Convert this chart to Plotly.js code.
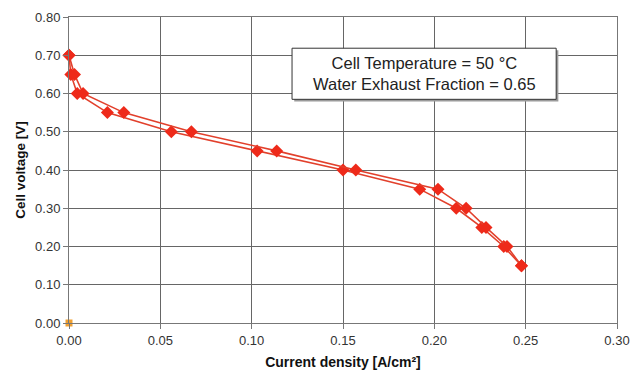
<!DOCTYPE html>
<html>
<head>
<meta charset="utf-8">
<script src="https://cdn.plot.ly/plotly-3.0.1.min.js"></script>
<style>html,body{margin:0;padding:0;background:#fff;}#chart{width:631px;height:375px;}</style>
</head>
<body>
<div id="chart"></div>
<script>
// Lower-current branch (one scan direction)
var currentA = [0.000, 0.001, 0.0045, 0.021, 0.056, 0.103, 0.150, 0.192, 0.212, 0.226, 0.238, 0.2477];
var voltageA = [0.70, 0.65, 0.60, 0.55, 0.50, 0.45, 0.40, 0.35, 0.30, 0.25, 0.20, 0.15];
// Higher-current branch (other scan direction)
var currentB = [0.000, 0.003, 0.0077, 0.030, 0.067, 0.1137, 0.157, 0.202, 0.2174, 0.2283, 0.2398, 0.2477];
var voltageB = [0.70, 0.65, 0.60, 0.55, 0.50, 0.45, 0.40, 0.35, 0.30, 0.25, 0.20, 0.15];
// Origin marker
var originX = [0];
var originY = [0];

var xTicks = [0, 0.05, 0.10, 0.15, 0.20, 0.25, 0.30];
var xTickText = ['0.00', '0.05', '0.10', '0.15', '0.20', '0.25', '0.30'];
var yTicks = [0, 0.1, 0.2, 0.3, 0.4, 0.5, 0.6, 0.7, 0.8];
var yTickText = ['0.00', '0.10', '0.20', '0.30', '0.40', '0.50', '0.60', '0.70', '0.80'];

var redLine = {color: '#e2402c', width: 1.6};
var redMarker = {symbol: 'diamond', size: 10, color: '#ee2a1a'};

var traces = [
  {x: currentA, y: voltageA, type: 'scatter', mode: 'lines+markers', line: redLine, marker: redMarker, cliponaxis: false},
  {x: currentB, y: voltageB, type: 'scatter', mode: 'lines+markers', line: redLine, marker: redMarker, cliponaxis: false},
  {x: originX, y: originY, type: 'scatter', mode: 'markers', marker: {symbol: 'square', size: 7, color: '#f0a030'}, cliponaxis: false}
];

var fontFam = 'Liberation Sans, Arial, sans-serif';
var bx0 = 0.407, bx1 = 0.889, by0 = 0.731, by1 = 0.898;

var layout = {
  width: 631, height: 375,
  margin: {l: 69, r: 14, t: 17, b: 52},
  paper_bgcolor: '#ffffff', plot_bgcolor: '#ffffff',
  showlegend: false,
  font: {family: fontFam, color: '#333'},
  xaxis: {
    range: [0, 0.30], tickvals: xTicks, ticktext: xTickText,
    showgrid: true, gridcolor: '#666', gridwidth: 1,
    zeroline: false, showline: true, linecolor: '#777', linewidth: 1, mirror: true,
    ticks: 'outside', ticklen: 5, tickcolor: '#777',
    tickfont: {size: 13, color: '#333'},
    title: {text: 'Current density [A/cm²]', font: {size: 14, color: '#111', family: fontFam, weight: 'bold'}, standoff: 10}
  },
  yaxis: {
    range: [0, 0.80], tickvals: yTicks, ticktext: yTickText,
    showgrid: true, gridcolor: '#666', gridwidth: 1,
    zeroline: false, showline: true, linecolor: '#777', linewidth: 1, mirror: true,
    ticks: 'outside', ticklen: 5, tickcolor: '#777',
    tickfont: {size: 13, color: '#333'},
    title: {text: 'Cell voltage [V]', font: {size: 13.5, color: '#111', family: fontFam, weight: 'bold'}, standoff: 6}
  },
  shapes: [
    {type: 'rect', xref: 'paper', yref: 'paper', x0: bx0 + 0.004, x1: bx1 + 0.004, y0: by0 - 0.007, y1: by1 - 0.007,
     fillcolor: '#9a9a9a', line: {width: 0}, layer: 'above'},
    {type: 'rect', xref: 'paper', yref: 'paper', x0: bx0, x1: bx1, y0: by0, y1: by1,
     fillcolor: '#ffffff', line: {color: '#333', width: 1}, layer: 'above'}
  ],
  annotations: [{
    xref: 'paper', yref: 'paper', x: (bx0 + bx1) / 2, y: (by0 + by1) / 2, xanchor: 'center', yanchor: 'middle',
    text: 'Cell Temperature = 50 °C<br>Water Exhaust Fraction = 0.65',
    showarrow: false, align: 'center',
    font: {size: 16.5, color: '#222', family: fontFam}
  }]
};

Plotly.newPlot('chart', traces, layout, {displayModeBar: false, staticPlot: true});
</script>
</body>
</html>
